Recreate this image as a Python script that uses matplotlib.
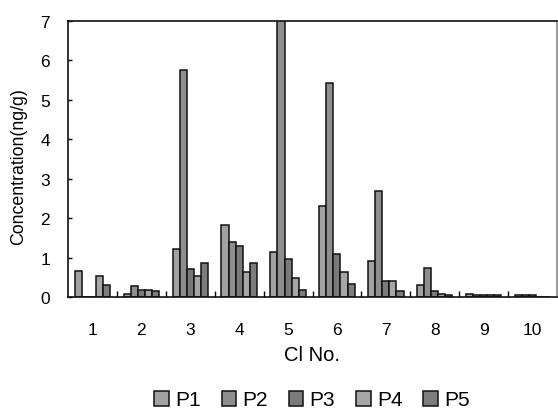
import matplotlib
matplotlib.use("Agg")
import matplotlib.pyplot as plt
import numpy as np

plt.rcParams['font.family'] = ['Liberation Sans', 'DejaVu Sans']

categories = ['1', '2', '3', '4', '5', '6', '7', '8', '9', '10']
series_names = ['P1', 'P2', 'P3', 'P4', 'P5']
P1 = [0.66, 0.08, 1.22, 1.83, 1.14, 2.31, 0.92, 0.30, 0.08, 0.04]
P2 = [0.00, 0.27, 5.76, 1.40, 7.30, 5.42, 2.68, 0.74, 0.04, 0.04]
P3 = [0.00, 0.19, 0.70, 1.30, 0.96, 1.10, 0.40, 0.15, 0.04, 0.04]
P4 = [0.52, 0.19, 0.52, 0.63, 0.48, 0.63, 0.40, 0.08, 0.04, 0.00]
P5 = [0.30, 0.15, 0.85, 0.85, 0.19, 0.34, 0.15, 0.04, 0.04, 0.00]
series = [P1, P2, P3, P4, P5]
colors = ['#a2a2a2', '#8e8e8e', '#7a7a7a', '#a6a6a6', '#7c7c7c']

fig = plt.figure(figsize=(5.58, 4.10), dpi=100)
ax = fig.add_axes([68/558, 112/410, 489/558, 276/410])

x = np.arange(1, len(categories) + 1)
w = 0.145
handles = []
for i, (vals, c, name) in enumerate(zip(series, colors, series_names)):
    b = ax.bar(x + (i - 2) * w, vals, width=w, color=c, edgecolor='#111111',
               linewidth=1.1, label=name)
    handles.append(b)

ax.set_xlim(0.5, 10.5)
ax.set_ylim(0, 7)
ax.set_yticks(range(0, 8))
ax.set_xticks(x)
ax.set_xticklabels(categories)
ax.set_xticks(np.arange(1.5, 10.5, 1.0), minor=True)
ax.tick_params(axis='x', which='major', length=0, pad=18, labelsize=12.5)
ax.tick_params(axis='x', which='minor', direction='in', length=4.5, width=1.0)
ax.tick_params(axis='y', direction='in', length=3, width=1.0, pad=13, labelsize=12.5)

for s in ax.spines.values():
    s.set_linewidth(1.2)
    s.set_color('#111111')
ax.spines['right'].set_color('#888888')

ax.set_ylabel('Concentration(ng/g)', fontsize=12.8)
ax.yaxis.set_label_coords(-0.083, 0.475)
ax.set_xlabel('Cl No.', fontsize=14.5, labelpad=6)

fig.legend(handles=handles, labels=series_names, loc='center',
           bbox_to_anchor=(312/558, 9/410), ncol=5, frameon=False,
           fontsize=15, handlelength=0.7, handleheight=0.7, handletextpad=0.3,
           columnspacing=1.0)

fig.savefig('out.png', dpi=100)
